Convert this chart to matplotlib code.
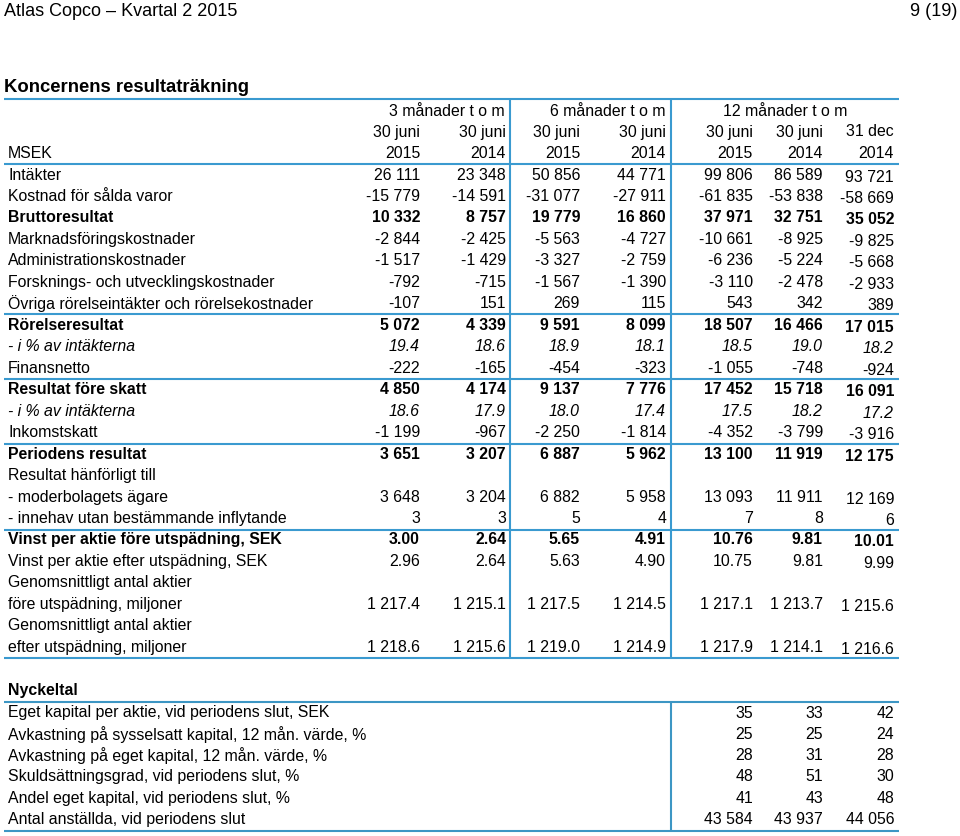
import matplotlib.pyplot as plt
from matplotlib import rcParams

rcParams['font.family'] = ['Liberation Sans', 'DejaVu Sans']

# Resultaträkning: radetiketter och värden (MSEK)
labels = [
    "Intäkter", "Kostnad för sålda varor", "Bruttoresultat",
    "Marknadsföringskostnader", "Administrationskostnader",
    "Forsknings- och utvecklingskostnader",
    "Övriga rörelseintäkter och rörelsekostnader",
    "Rörelseresultat", "- i % av intäkterna", "Finansnetto",
    "Resultat före skatt", "- i % av intäkterna", "Inkomstskatt",
    "Periodens resultat", "Resultat hänförligt till",
    "- moderbolagets ägare", "- innehav utan bestämmande inflytande",
    "Vinst per aktie före utspädning, SEK",
    "Vinst per aktie efter utspädning, SEK",
    "Genomsnittligt antal aktier", "före utspädning, miljoner",
    "Genomsnittligt antal aktier", "efter utspädning, miljoner",
]
values = [
    [26111, 23348, 50856, 44771, 99806, 86589, 93721],
    [-15779, -14591, -31077, -27911, -61835, -53838, -58669],
    [10332, 8757, 19779, 16860, 37971, 32751, 35052],
    [-2844, -2425, -5563, -4727, -10661, -8925, -9825],
    [-1517, -1429, -3327, -2759, -6236, -5224, -5668],
    [-792, -715, -1567, -1390, -3110, -2478, -2933],
    [-107, 151, 269, 115, 543, 342, 389],
    [5072, 4339, 9591, 8099, 18507, 16466, 17015],
    [19.4, 18.6, 18.9, 18.1, 18.5, 19.0, 18.2],
    [-222, -165, -454, -323, -1055, -748, -924],
    [4850, 4174, 9137, 7776, 17452, 15718, 16091],
    [18.6, 17.9, 18.0, 17.4, 17.5, 18.2, 17.2],
    [-1199, -967, -2250, -1814, -4352, -3799, -3916],
    [3651, 3207, 6887, 5962, 13100, 11919, 12175],
    None,
    [3648, 3204, 6882, 5958, 13093, 11911, 12169],
    [3, 3, 5, 4, 7, 8, 6],
    [3.00, 2.64, 5.65, 4.91, 10.76, 9.81, 10.01],
    [2.96, 2.64, 5.63, 4.90, 10.75, 9.81, 9.99],
    None,
    [1217.4, 1215.1, 1217.5, 1214.5, 1217.1, 1213.7, 1215.6],
    None,
    [1218.6, 1215.6, 1219.0, 1214.9, 1217.9, 1214.1, 1216.6],
]
decimals = [0, 0, 0, 0, 0, 0, 0, 0, 1, 0, 0, 1, 0, 0, 0, 0, 0, 2, 2, 0, 1, 0, 1]
bold_rows = {2, 7, 10, 13, 17}
italic_rows = {8, 11}

period_heads = ["3 månader t o m", "6 månader t o m", "12 månader t o m"]
date_heads = ["30 juni", "30 juni", "30 juni", "30 juni", "30 juni", "30 juni", "31 dec"]
year_heads = ["2015", "2014", "2015", "2014", "2015", "2014", "2014"]

# Nyckeltal (12 månader)
key_labels = [
    "Eget kapital per aktie, vid periodens slut, SEK",
    "Avkastning på sysselsatt kapital, 12 mån. värde, %",
    "Avkastning på eget kapital, 12 mån. värde, %",
    "Skuldsättningsgrad, vid periodens slut, %",
    "Andel eget kapital, vid periodens slut, %",
    "Antal anställda, vid periodens slut",
]
key_values = [
    [35, 33, 42],
    [25, 25, 24],
    [28, 31, 28],
    [48, 51, 30],
    [41, 43, 48],
    [43584, 43937, 44056],
]


def fmt(v, dec):
    s = f"{abs(v):,.{dec}f}".replace(",", " ")
    return "-" + s if v < 0 else s


fig = plt.figure(figsize=(9.6, 8.36), dpi=100)
ax = fig.add_axes([0, 0, 1, 1])
ax.set_xlim(0, 960)
ax.set_ylim(836, 0)
ax.axis('off')

blue = '#3a9ad0'
fs = 11.4
col_right = [420, 506, 580, 666, 753, 823, 894]

# sidhuvud
ax.text(4, 11, "Atlas Copco – Kvartal 2 2015", fontsize=13, va='center', ha='left')
ax.text(957, 11, "9 (19)", fontsize=13, va='center', ha='right')
ax.text(4, 87, "Koncernens resultaträkning", fontsize=13.3, fontweight='bold', va='center', ha='left')

# linjer
for y in [99, 164, 314, 379, 444, 530, 658]:
    ax.plot([4, 899], [y, y], color=blue, lw=1.5, solid_capstyle='butt')
for x in [510, 671]:
    ax.plot([x, x], [99, 658], color=blue, lw=1.5, solid_capstyle='butt')

# kolumnrubriker
ax.text(505, 111, period_heads[0], fontsize=fs, va='center', ha='right')
ax.text(666, 111, period_heads[1], fontsize=fs, va='center', ha='right')
ax.text(785, 111, period_heads[2], fontsize=fs, va='center', ha='center')
for i, x in enumerate(col_right):
    ax.text(x, 132, date_heads[i], fontsize=fs, va='center', ha='right')
    ax.text(x, 154, year_heads[i], fontsize=fs, va='center', ha='right')
ax.text(8, 154, "MSEK", fontsize=fs, va='center', ha='left')

# rader
row_h = 21.47
for r, lab in enumerate(labels):
    y = 175 + r * row_h
    weight = 'bold' if r in bold_rows else 'normal'
    style = 'italic' if r in italic_rows else 'normal'
    ax.text(8, y, lab, fontsize=fs, fontweight=weight, fontstyle=style, va='center', ha='left')
    if values[r] is None:
        continue
    for c, v in enumerate(values[r]):
        dy = 2 if c == 6 else 0
        ax.text(col_right[c], y + dy, fmt(v, decimals[r]), fontsize=fs,
                fontweight=weight, fontstyle=style, va='center', ha='right')

# Nyckeltal
ax.text(8, 690, "Nyckeltal", fontsize=fs, fontweight='bold', va='center', ha='left')
for y in [702, 831]:
    ax.plot([4, 899], [y, y], color='#3c96c4', lw=1.5, solid_capstyle='butt')
ax.plot([671, 671], [702, 831], color='#3c96c4', lw=1.5, solid_capstyle='butt')
for r, lab in enumerate(key_labels):
    y = 713 + r * 21.3
    ax.text(8, y, lab, fontsize=fs, va='center', ha='left')
    for c, v in enumerate(key_values[r]):
        ax.text(col_right[4 + c], y, fmt(v, 0), fontsize=fs, va='center', ha='right')

fig.savefig('out.png', dpi=100)
